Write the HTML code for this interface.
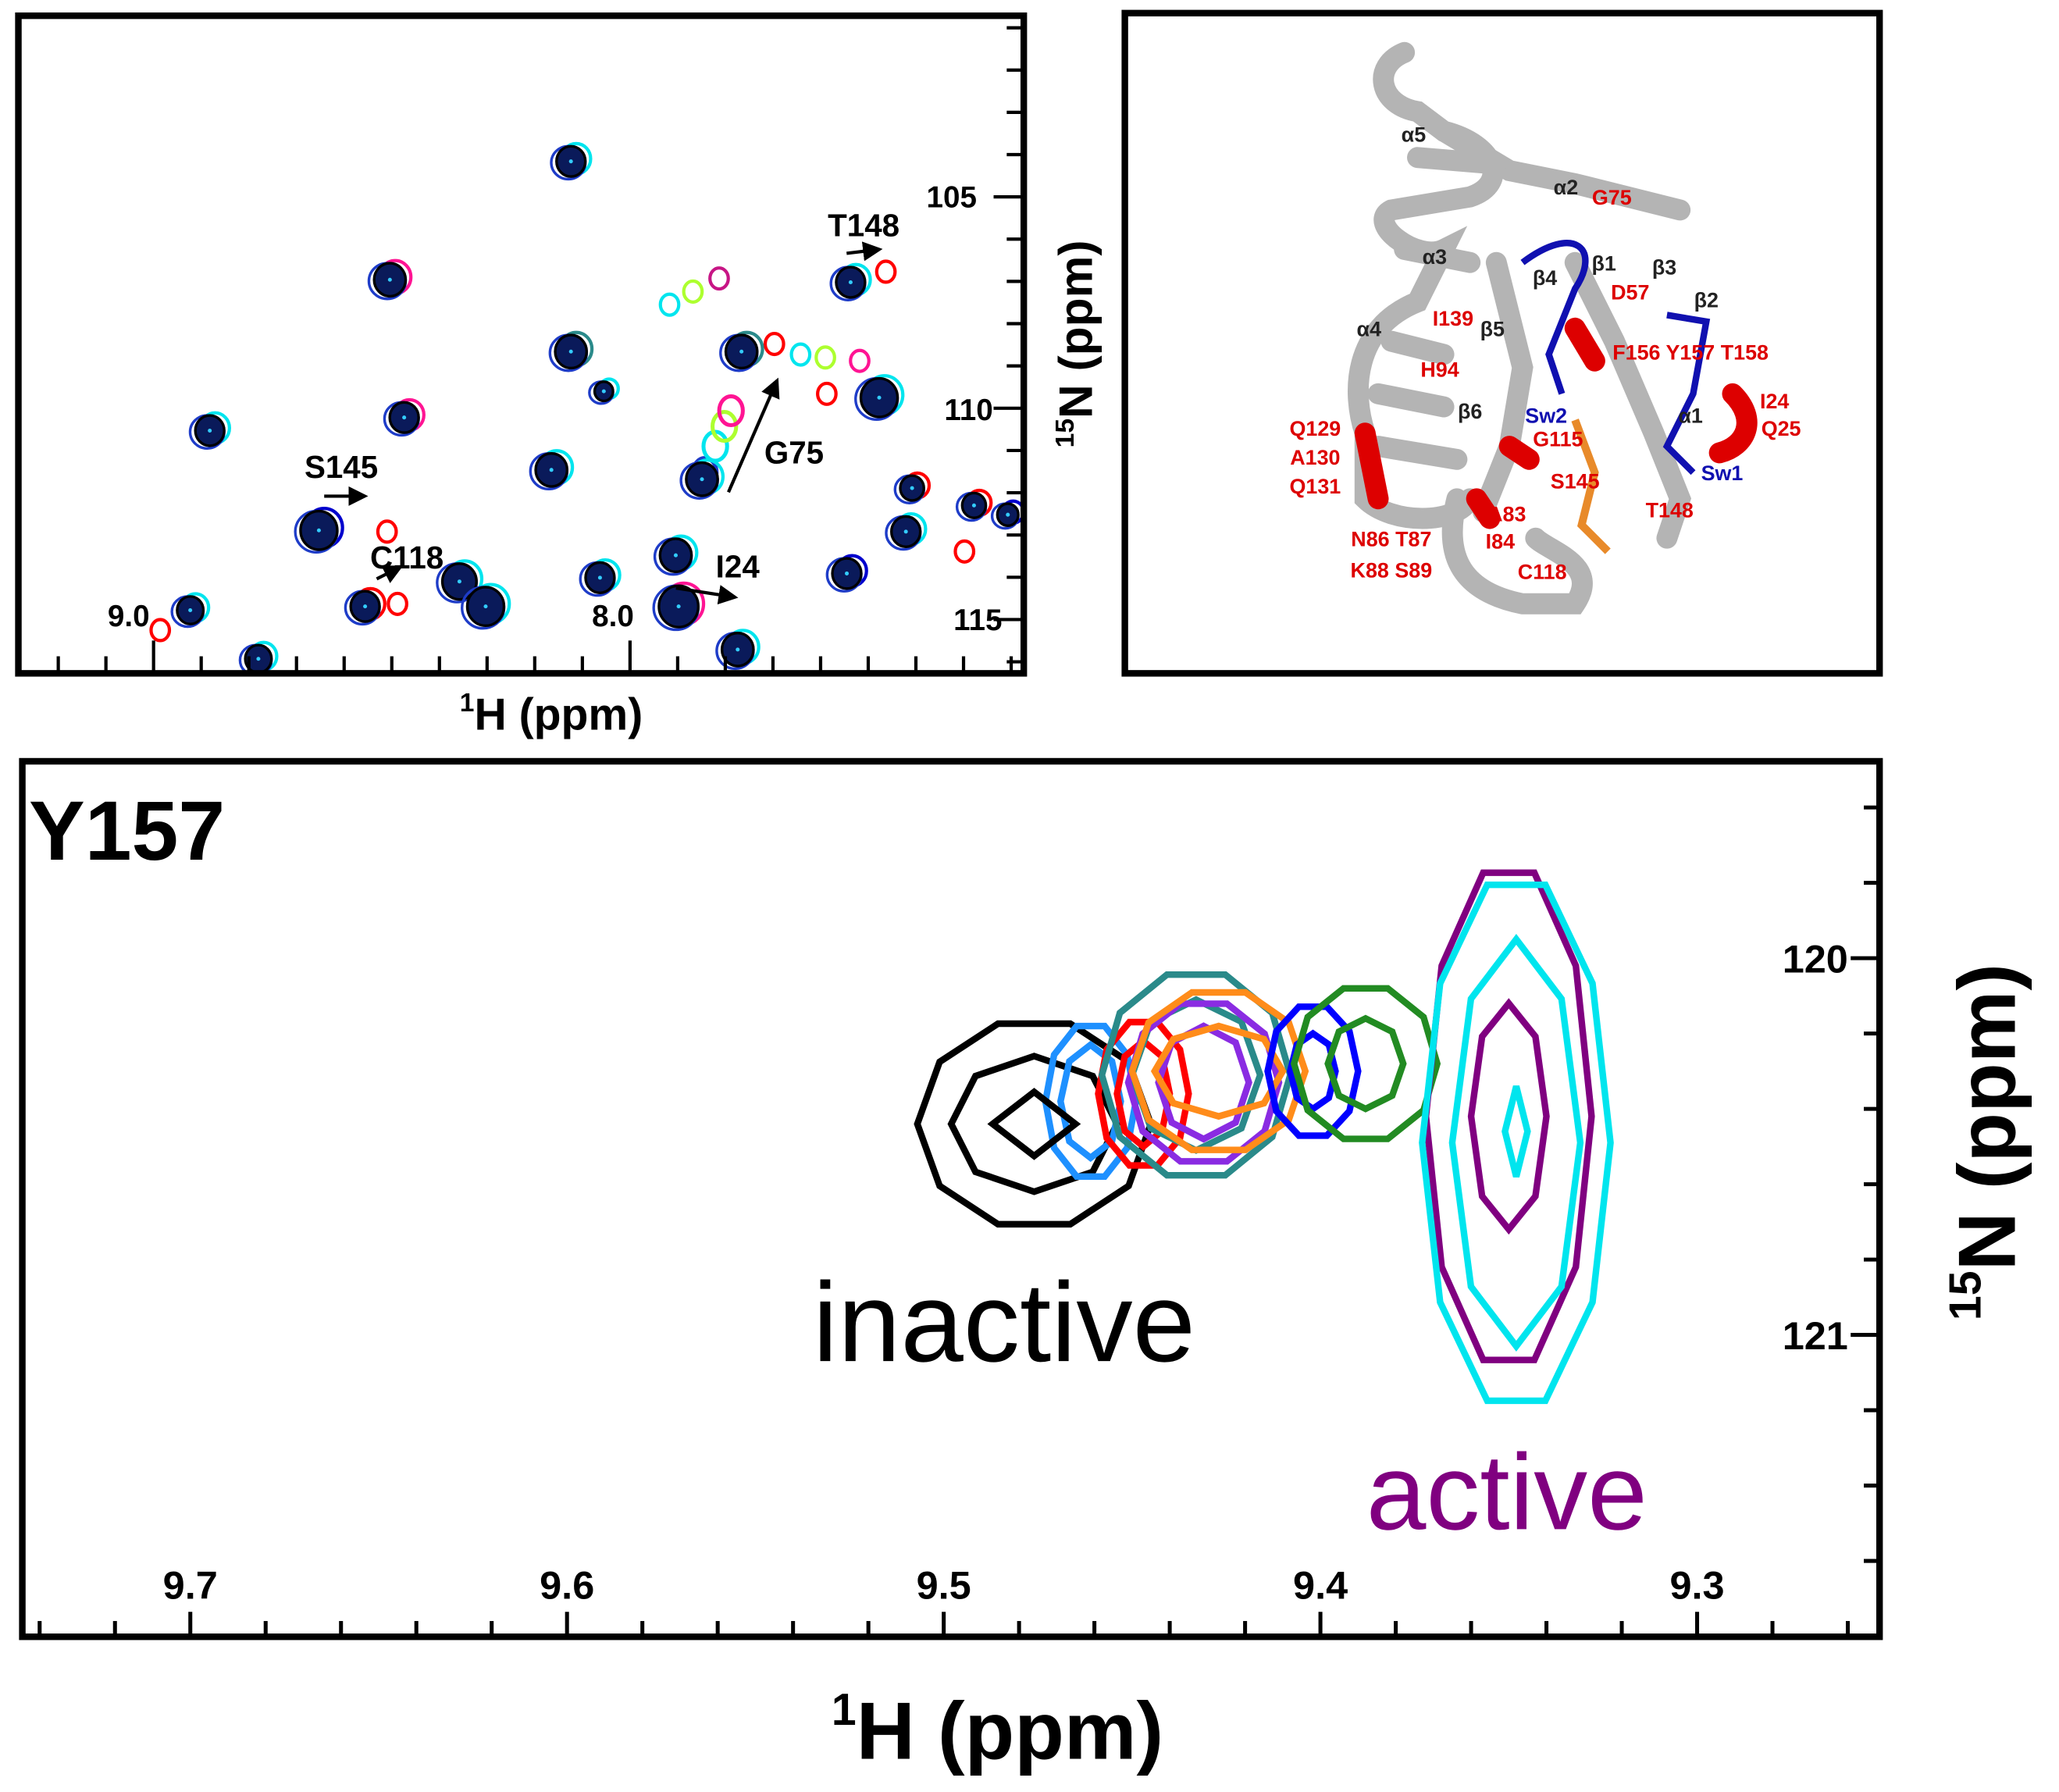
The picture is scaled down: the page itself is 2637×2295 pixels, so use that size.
<!DOCTYPE html>
<html><head><meta charset="utf-8"><style>
html,body{margin:0;padding:0;background:#fff;}
svg{display:block;font-family:"Liberation Sans",Arial,sans-serif;}
</style></head><body>
<svg id="fig" width="2637" height="2295" viewBox="0 0 2637 2295" xmlns="http://www.w3.org/2000/svg">
<rect width="2637" height="2295" fill="#fff"/>
<g id="root" transform="scale(1.681)">
  <g id="tl"></g>
  <rect x="14" y="12" width="766" height="501" fill="none" stroke="#000" stroke-width="5"/>
  <text x="420" y="556" font-size="34" font-weight="bold" text-anchor="middle"><tspan font-size="20" dy="-14">1</tspan><tspan dy="14">H (ppm)</tspan></text>
  <text transform="translate(832,262) rotate(-90)" font-size="36" font-weight="bold" text-anchor="middle"><tspan font-size="20" dy="-14">15</tspan><tspan dy="14">N (ppm)</tspan></text>

  <g id="tr"></g>
  <rect x="857" y="10" width="575" height="503" fill="none" stroke="#000" stroke-width="5"/>

  <g id="bp"></g>
  <rect x="17" y="580" width="1415" height="667" fill="none" stroke="#000" stroke-width="5"/>
  <text x="22" y="655" font-size="64" font-weight="bold">Y157</text>
  <text x="765" y="1037" font-size="86" text-anchor="middle" fill="#000">inactive</text>
  <text x="1148" y="1165" font-size="82" text-anchor="middle" fill="#800080">active</text>
  <text x="760" y="1340" font-size="62" font-weight="bold" text-anchor="middle"><tspan font-size="34" dy="-26">1</tspan><tspan dy="26">H (ppm)</tspan></text>
  <text transform="translate(1535,870) rotate(-90)" font-size="62" font-weight="bold" text-anchor="middle"><tspan font-size="34" dy="-26">15</tspan><tspan dy="26">N (ppm)</tspan></text>
</g>
</svg>
<script>
// ===== Bottom panel data (Y157 peaks) =====
const peakColors = ["#000000","#1e90ff","#ff0000","#2a8a8a","#8a2be2","#ff8c1a","#0000ff","#228b22","#800080","#00e5ee"];
const peakCenterH = [9.476, 9.461, 9.447, 9.433, 9.431, 9.427, 9.402, 9.388, 9.350, 9.348];
const peakCenterN = [120.44, 120.38, 120.36, 120.31, 120.33, 120.30, 120.30, 120.28, 120.42, 120.49];
const peakOuterRH = [0.031, 0.012, 0.012, 0.025, 0.020, 0.023, 0.012, 0.019, 0.022, 0.025];
const peakOuterRN = [0.28, 0.21, 0.20, 0.28, 0.22, 0.22, 0.18, 0.21, 0.68, 0.72];
const peakInnerRH = [0.022, 0.008, 0.007, 0.017, 0.012, 0.017, 0.006, 0.010, 0.010, 0.017];
const peakInnerRN = [0.18, 0.15, 0.14, 0.20, 0.15, 0.12, 0.10, 0.12, 0.30, 0.54];
const xTickLabels = ["9.7","9.6","9.5","9.4","9.3"];
const xTickValues = [9.7,9.6,9.5,9.4,9.3];
const yTickLabels = ["120","121"];
const yTickValues = [120,121];

// ===== Top-left overview data =====
const ovH = [8.124,8.504,8.124,8.055,8.474,8.882,8.165,8.653,7.904,7.849,8.358,8.303,8.556,8.923,8.780,8.063,7.898,7.774,7.537,7.766,7.477,7.408,7.421,7.545,7.278,7.207];
const ovN = [104.16,106.96,108.66,109.60,110.22,110.53,111.46,112.89,113.48,111.68,114.10,114.69,114.69,114.78,115.93,114.01,114.69,115.71,107.02,108.66,109.75,111.89,112.92,113.91,112.30,112.52];
const ovR = [11,12,12,7,11,11,12,14,12,12,13,14,11,10,10,11,15,12,11,12,14,9,11,11,9,8];
const ovShift = ["#00e5ee","#ff1493","#2a8a8a","#00e5ee","#ff1493","#00e5ee","#00e5ee","#0000cd","#00e5ee","#00e5ee","#00e5ee","#00e5ee","#ff0000","#00e5ee","#00e5ee","#00e5ee","#ff1493","#00e5ee","#00e5ee","#2a8a8a","#00e5ee","#ff0000","#00e5ee","#0000cd","#ff0000","#0000cd"];
const extraH = [8.986,7.917,7.868,7.813,7.463,8.488,7.587,7.518,7.697,7.298,8.510,7.642,7.590];
const extraN = [115.25,107.55,107.24,106.93,106.77,114.63,109.66,108.88,108.48,113.39,112.92,108.73,108.80];
const extraC = ["#ff0000","#00e5ee","#adff2f","#c71585","#ff0000","#ff0000","#ff0000","#ff1493","#ff0000","#ff0000","#ff0000","#00e5ee","#adff2f"];
const trailH = [7.843,7.821,7.802,7.788];
const trailN = [111.52,110.90,110.43,110.06];
const trailC = ["#1e3cc8","#00e5ee","#adff2f","#ff1493"];

const NS="http://www.w3.org/2000/svg";
function mk(tag, attrs, parent){const e=document.createElementNS(NS,tag);for(const k in attrs)e.setAttribute(k,attrs[k]);parent.appendChild(e);return e;}

const bx = v => 145 + (9.7 - v) * 2870;
const by = v => 730 + (v - 120) * 287;
const bp = document.getElementById('bp');
function contour(cx, cy, rx, ry, color, parent, n){
  let pts=[];
  for(let i=0;i<n;i++){const a=2*Math.PI*i/n;pts.push((bx(cx)+Math.cos(a)*rx*2870).toFixed(1)+","+(by(cy)+Math.sin(a)*ry*287).toFixed(1));}
  return mk('polygon',{points:pts.join(' '),fill:'none',stroke:color,'stroke-width':5,'stroke-linejoin':'miter'},parent);
}
for(let i=0;i<peakColors.length;i++){
  const o=contour(peakCenterH[i],peakCenterN[i],peakOuterRH[i],peakOuterRN[i],peakColors[i],bp,10);
  
  
  const inn=contour(peakCenterH[i],peakCenterN[i],peakInnerRH[i],peakInnerRN[i],peakColors[i],bp,8);
  
  
}
const ci=contour(9.476,120.44,0.011,0.085,"#000",bp,4);


const cc=contour(9.348,120.46,0.003,0.12,"#00e5ee",bp,4);


for(let v=9.74; v>=9.25; v-=0.02){
  const major = Math.abs(v*10-Math.round(v*10))<0.01;
  const t=mk('line',{x1:bx(v),x2:bx(v),y1:1247,y2:major?1228:1235,stroke:'#000','stroke-width':3},bp);
  
  
}
xTickValues.forEach((v,i)=>{
  const t=mk('text',{x:bx(v),y:1218,'font-size':30,'font-weight':'bold','text-anchor':'middle'},bp);
  t.textContent=xTickLabels[i];
  
  
});
for(let v=119.6; v<=121.7; v+=0.2){
  const major = Math.abs(v-Math.round(v))<0.01;
  const t=mk('line',{x1:1432,x2:major?1410:1420,y1:by(v),y2:by(v),stroke:'#000','stroke-width':3},bp);
  
  
}
yTickValues.forEach((v,i)=>{
  const t=mk('text',{x:1408,y:by(v)+11,'font-size':30,'font-weight':'bold','text-anchor':'end'},bp);
  t.textContent=yTickLabels[i];
  
  
});

const ox = v => 117 + (9.0 - v) * 363;
const oy = v => 150 + (v - 105) * 32.2;
const tl = document.getElementById('tl');
const defs = mk('defs',{},tl);
defs.innerHTML='<clipPath id="tlclip"><rect x="14" y="12" width="766" height="501"/></clipPath><marker id="ah" markerWidth="6" markerHeight="6" refX="5" refY="3" orient="auto"><path d="M0,0L6,3L0,6z" fill="#000"/></marker>';
const tlg = mk('g',{'clip-path':'url(#tlclip)'},tl);
extraH.forEach((h,i)=>{
  const c=mk('ellipse',{cx:ox(h),cy:oy(extraN[i]),rx:7,ry:8,fill:'none',stroke:extraC[i],'stroke-width':2.5},tlg);
  
  
});
trailH.forEach((h,i)=>{
  const c=mk('ellipse',{cx:ox(h),cy:oy(trailN[i]),rx:9,ry:11,fill:'none',stroke:trailC[i],'stroke-width':3},tlg);
  
  
});
ovH.forEach((h,i)=>{
  const x=ox(h), y=oy(ovN[i]), r=ovR[i];
  const s=mk('ellipse',{cx:x+4,cy:y-2,rx:r,ry:r*1.05,fill:'none',stroke:ovShift[i],'stroke-width':2.5},tlg);
  
  
  const s2=mk('ellipse',{cx:x-2,cy:y+1,rx:r+2,ry:r*1.05+1,fill:'none',stroke:'#1e3cc8','stroke-width':2},tlg);
  
  
  const p=mk('ellipse',{cx:x,cy:y,rx:r,ry:r*1.05,fill:'#0a1a5a',stroke:'#000','stroke-width':2},tlg);
  
  
  const d=mk('circle',{cx:x,cy:y,r:1.5,fill:'#3cf'},tlg);
  
  
});
for(let v=9.2; v>=7.15; v-=0.1){
  const major=Math.abs(v-Math.round(v))<0.01;
  const t=mk('line',{x1:ox(v),x2:ox(v),y1:513,y2:major?488:500,stroke:'#000','stroke-width':2.5},tl);
  
  
}
for(let v=101; v<=116; v+=1){
  const major=v%5===0;
  const t=mk('line',{x1:780,x2:major?757:767,y1:oy(v),y2:oy(v),stroke:'#000','stroke-width':2.5},tl);
  
  
}
[["9.0",98,477],["8.0",467,477],["105",725,158],["110",738,320],["115",745,480]].forEach(a=>{
  const t=mk('text',{x:a[1],y:a[2],'font-size':23,'font-weight':'bold','text-anchor':'middle'},tl);
  t.textContent=a[0];
  
  
});
[["T148",658,180],["S145",260,364],["C118",310,433],["I24",562,440],["G75",605,353]].forEach(a=>{
  const t=mk('text',{x:a[1],y:a[2],'font-size':24,'font-weight':'bold','text-anchor':'middle'},tl);
  t.textContent=a[0];
  
  
});
[[645,193,670,190],[247,378,278,378],[287,441,305,432],[515,448,560,455],[555,375,592,290]].forEach(a=>{
  const l=mk('line',{x1:a[0],y1:a[1],x2:a[2],y2:a[3],stroke:'#000','stroke-width':2.5,'marker-end':'url(#ah)'},tl);
  
  
});

const tr=document.getElementById('tr');
const gray=[
 "M1070,40 C1045,50 1050,80 1080,85 L1100,100 C1140,110 1150,140 1120,150 L1060,160 C1040,170 1080,200 1100,190 L1080,230 C1030,250 1030,300 1040,330 L1040,380 C1060,400 1110,400 1120,380",
 "M1100,100 L1150,130 L1200,140 L1280,160",
 "M1110,380 C1100,420 1110,450 1160,460 L1200,460 C1220,430 1180,420 1170,410",
 "M1140,200 L1160,280 L1150,340 L1130,390",
 "M1200,200 L1230,260 L1260,330 L1280,380 L1270,410",
 "M1060,260 L1100,270 M1050,300 L1100,310 M1050,340 L1110,350 M1070,190 L1120,200 M1080,120 L1140,125"
];
gray.forEach(d=>{
  const p=mk('path',{d:d,fill:'none',stroke:'#b4b4b4','stroke-width':16,'stroke-linecap':'round'},tr);
  
  
});
["M1040,330 L1050,380","M1200,250 L1215,275","M1320,300 C1340,320 1330,340 1310,345","M1150,340 L1165,350","M1125,380 L1135,395"].forEach(d=>{
  const p=mk('path',{d:d,fill:'none',stroke:'#dd0000','stroke-width':16,'stroke-linecap':'round'},tr);
  
  
});
["M1160,200 C1200,170 1220,190 1200,220 L1180,270 L1190,300","M1270,240 L1300,245 L1290,300 L1270,340 L1290,360"].forEach(d=>{
  const p=mk('path',{d:d,fill:'none',stroke:'#1010b0','stroke-width':5},tr);
  
  
});
const nuc=mk('path',{d:"M1200,320 L1215,360 L1205,400 L1225,420",fill:'none',stroke:'#e88a2a','stroke-width':6},tr);


const labels=[
 ["α5",1077,108,"#222"],["α2",1193,148,"#222"],["G75",1228,156,"#d00"],["α3",1093,201,"#222"],["β4",1177,217,"#222"],["β1",1222,206,"#222"],["β3",1268,209,"#222"],["D57",1242,228,"#d00"],["β2",1300,234,"#222"],["α4",1043,256,"#222"],["I139",1107,248,"#d00"],["β5",1137,256,"#222"],["F156 Y157 T158",1288,274,"#d00"],["H94",1097,287,"#d00"],["I24",1352,311,"#d00"],["Q25",1357,332,"#d00"],["β6",1120,319,"#222"],["Sw2",1178,322,"#1010b0"],["α1",1288,322,"#222"],["G115",1187,340,"#d00"],["Q129",1002,332,"#d00"],["A130",1002,354,"#d00"],["Q131",1002,376,"#d00"],["Sw1",1312,366,"#1010b0"],["S145",1200,372,"#d00"],["A83",1148,397,"#d00"],["T148",1272,394,"#d00"],["N86 T87",1060,416,"#d00"],["I84",1143,418,"#d00"],["K88 S89",1060,440,"#d00"],["C118",1175,441,"#d00"]
];
labels.forEach(a=>{
  const t=mk('text',{x:a[1],y:a[2],'font-size':16,'font-weight':'bold','text-anchor':'middle',fill:a[3]},tr);
  t.textContent=a[0];
  
  
});
</script>
</body></html>
